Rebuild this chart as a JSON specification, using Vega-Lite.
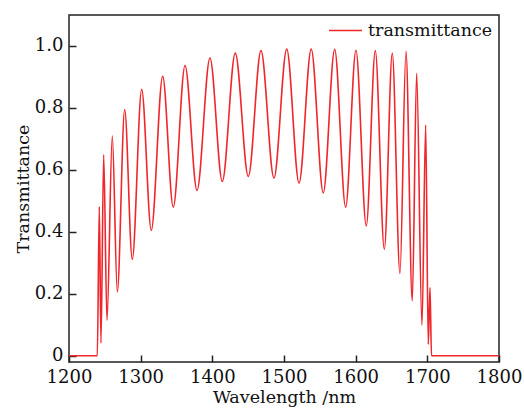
{
  "$schema": "https://vega.github.io/schema/vega-lite/v6.json",
  "width": 430,
  "height": 347,
  "autosize": {"type": "none"},
  "padding": {"left": 69, "top": 15, "right": 25, "bottom": 48},
  "background": "white",
  "config": {
    "view": {"stroke": "#222", "strokeWidth": 1.5},
    "font": "DejaVu Serif",
    "axis": {
      "labelFont": "DejaVu Serif",
      "titleFont": "DejaVu Serif",
      "labelFontSize": 18,
      "titleFontSize": 17.5,
      "titleFontWeight": "normal",
      "labelColor": "#111",
      "titleColor": "#111",
      "domain": false,
      "ticks": true,
      "tickColor": "#222",
      "tickWidth": 1.5,
      "tickSize": 7,
      "offset": -7,
      "grid": false
    }
  },
  "data": {
    "values": [
      {"wl": 1200, "t": 0, "s": "transmittance"},
      {"wl": 1239.5, "t": 0, "s": "transmittance"},
      {"wl": 1242.3, "t": 0.482, "s": "transmittance"},
      {"wl": 1244.6, "t": 0.041, "s": "transmittance"},
      {"wl": 1248.4, "t": 0.649, "s": "transmittance"},
      {"wl": 1253.0, "t": 0.115, "s": "transmittance"},
      {"wl": 1260.4, "t": 0.709, "s": "transmittance"},
      {"wl": 1267.4, "t": 0.206, "s": "transmittance"},
      {"wl": 1277.7, "t": 0.795, "s": "transmittance"},
      {"wl": 1288.3, "t": 0.311, "s": "transmittance"},
      {"wl": 1301.4, "t": 0.860, "s": "transmittance"},
      {"wl": 1314.8, "t": 0.405, "s": "transmittance"},
      {"wl": 1330.7, "t": 0.902, "s": "transmittance"},
      {"wl": 1345.5, "t": 0.480, "s": "transmittance"},
      {"wl": 1361.9, "t": 0.937, "s": "transmittance"},
      {"wl": 1378.6, "t": 0.534, "s": "transmittance"},
      {"wl": 1396.7, "t": 0.961, "s": "transmittance"},
      {"wl": 1413.9, "t": 0.563, "s": "transmittance"},
      {"wl": 1432.0, "t": 0.977, "s": "transmittance"},
      {"wl": 1450.2, "t": 0.579, "s": "transmittance"},
      {"wl": 1467.9, "t": 0.985, "s": "transmittance"},
      {"wl": 1486.0, "t": 0.574, "s": "transmittance"},
      {"wl": 1503.8, "t": 0.990, "s": "transmittance"},
      {"wl": 1521.0, "t": 0.557, "s": "transmittance"},
      {"wl": 1538.0, "t": 0.990, "s": "transmittance"},
      {"wl": 1554.8, "t": 0.526, "s": "transmittance"},
      {"wl": 1570.7, "t": 0.989, "s": "transmittance"},
      {"wl": 1586.0, "t": 0.480, "s": "transmittance"},
      {"wl": 1600.4, "t": 0.986, "s": "transmittance"},
      {"wl": 1614.8, "t": 0.419, "s": "transmittance"},
      {"wl": 1627.4, "t": 0.985, "s": "transmittance"},
      {"wl": 1640.0, "t": 0.344, "s": "transmittance"},
      {"wl": 1651.1, "t": 0.977, "s": "transmittance"},
      {"wl": 1661.8, "t": 0.266, "s": "transmittance"},
      {"wl": 1670.2, "t": 0.983, "s": "transmittance"},
      {"wl": 1679.0, "t": 0.177, "s": "transmittance"},
      {"wl": 1685.1, "t": 0.912, "s": "transmittance"},
      {"wl": 1692.5, "t": 0.099, "s": "transmittance"},
      {"wl": 1697.7, "t": 0.745, "s": "transmittance"},
      {"wl": 1701.3, "t": 0.037, "s": "transmittance"},
      {"wl": 1703.7, "t": 0.220, "s": "transmittance"},
      {"wl": 1705.8, "t": 0, "s": "transmittance"},
      {"wl": 1800, "t": 0, "s": "transmittance"}
    ]
  },
  "mark": {"type": "line", "interpolate": "monotone", "strokeWidth": 1.6, "clip": true},
  "encoding": {
    "x": {
      "field": "wl", "type": "quantitative",
      "scale": {"domain": [1200, 1800], "nice": false, "zero": false},
      "axis": {"values": [1200, 1300, 1400, 1500, 1600, 1700, 1800], "format": "d", "title": "Wavelength /nm", "labelPadding": 6, "titlePadding": 2, "labelFlush": false}
    },
    "y": {
      "field": "t", "type": "quantitative",
      "scale": {"domain": [-0.02, 1.1], "nice": false, "zero": false},
      "axis": {"values": [0, 0.2, 0.4, 0.6, 0.8, 1.0], "labelExpr": "datum.value == 0 ? '0' : format(datum.value, '.1f')", "title": "Transmittance", "labelPadding": 6, "titlePadding": 2}
    },
    "color": {
      "field": "s", "type": "nominal",
      "scale": {"range": ["#f0262b"]},
      "legend": {
        "title": null,
        "orient": "none",
        "legendX": 259,
        "legendY": -2,
        "symbolType": "stroke",
        "symbolSize": 1089,
        "symbolStrokeWidth": 1.5,
        "labelFont": "DejaVu Serif",
        "labelFontSize": 17.5,
        "labelColor": "#111",
        "labelOffset": 5
      }
    }
  }
}
